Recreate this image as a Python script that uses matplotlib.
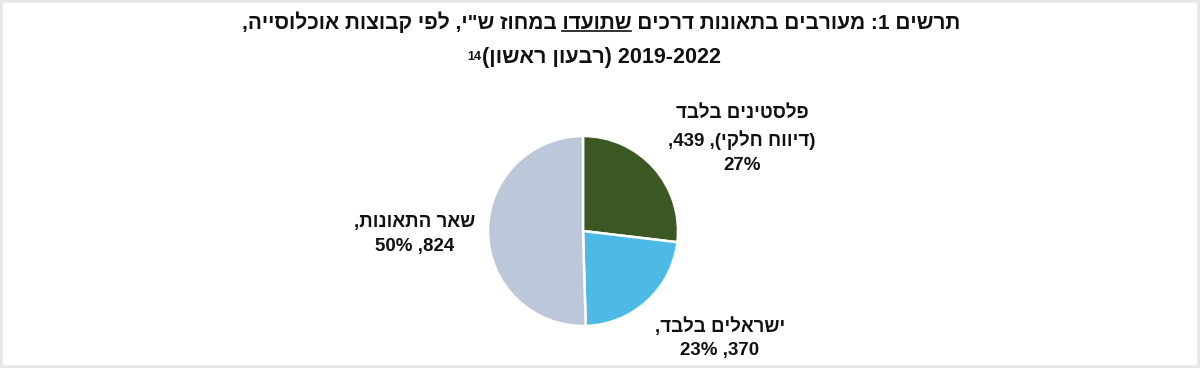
import re
import matplotlib
matplotlib.use("Agg")
import matplotlib.pyplot as plt
from matplotlib.patches import Rectangle

# data (logical Hebrew order, converted to visual order below)
groups = ["פלסטינים בלבד (דיווח חלקי)", "ישראלים בלבד", "שאר התאונות"]
counts = [439, 370, 824]
colors = ["#3b5724", "#4cb9e7", "#bcc8da"]
label_lines = [
    ["פלסטינים בלבד", "(דיווח חלקי), 439,", "27%"],
    ["ישראלים בלבד,", "370, 23%"],
    ["שאר התאונות,", "824, 50%"],
]
title_1 = 'תרשים 1: מעורבים בתאונות דרכים שתועדו במחוז ש"י, לפי קבוצות אוכלוסייה,'
title_2 = "2019-2022 (רבעון ראשון)"
underlined = "שתועדו"
footnote = "14"

FONT = ["Liberation Sans", "DejaVu Sans"]
INK = "#111111"


def visual(s):
    # crude RTL -> visual: reverse, put number runs back, mirror brackets
    r = s[::-1]
    r = re.sub(r"[0-9%\-\.]+", lambda m: m.group(0)[::-1], r)
    return r.translate(str.maketrans("()", ")("))


fig = plt.figure(figsize=(12, 3.68), dpi=100)
fig.patches.append(Rectangle((0, 0), 1, 1, transform=fig.transFigure,
                             fill=False, edgecolor="#e6e6e6", linewidth=4))

W, H = 1200, 368
cx, cy, r = 583, 231, 95
ax = fig.add_axes([(cx - r) / W, (H - cy - r) / H, 2 * r / W, 2 * r / H])
ax.pie(counts, colors=colors, startangle=90, counterclock=False,
       wedgeprops=dict(edgecolor="white", linewidth=1.8))
ax.set_xlim(-1, 1)
ax.set_ylim(-1, 1)
ax.set_aspect("auto")
ax.axis("off")

# slice labels
label_pos = [(742, [113, 140, 166]), (720, [327, 351]), (415, [222, 247])]
for lines, (x, ys) in zip(label_lines, label_pos):
    for line, y in zip(lines, ys):
        fig.text(x / W, 1 - y / H, visual(line), ha="center", va="center",
                 fontsize=13.5, fontweight="bold", family=FONT, color=INK)

# title
t1 = fig.text(601 / W, 1 - 22 / H, visual(title_1), ha="center", va="center",
              fontsize=15, fontweight="bold", family=FONT, color=INK)
t2 = fig.text(602 / W, 1 - 58 / H, visual(title_2), ha="center", va="center",
              fontsize=15.5, fontweight="bold", family=FONT, color=INK)

fig.canvas.draw()
rend = fig.canvas.get_renderer()
bb1 = t1.get_window_extent(rend)
bb2 = t2.get_window_extent(rend)

# footnote marker to the left of the second line
fig.text((bb2.x0 - 1) / W, (bb2.y1 - 3) / H, footnote, ha="right", va="top",
         fontsize=9, fontweight="bold", family=FONT, color=INK)

# underline the word in the first title line
vis1 = visual(title_1)
vw = visual(underlined)
i = vis1.index(vw)
tmp = fig.text(0, 0, vis1[:i], fontsize=15, fontweight="bold", family=FONT)
w_left = tmp.get_window_extent(rend).width
tmp.set_text(vw)
w_word = tmp.get_window_extent(rend).width
tmp.remove()
uy = bb1.y0 + 2
fig.add_artist(plt.Line2D([(bb1.x0 + w_left) / W, (bb1.x0 + w_left + w_word) / W],
                          [uy / H, uy / H], transform=fig.transFigure,
                          color=INK, linewidth=1.2))

fig.savefig("out.png", dpi=100)
